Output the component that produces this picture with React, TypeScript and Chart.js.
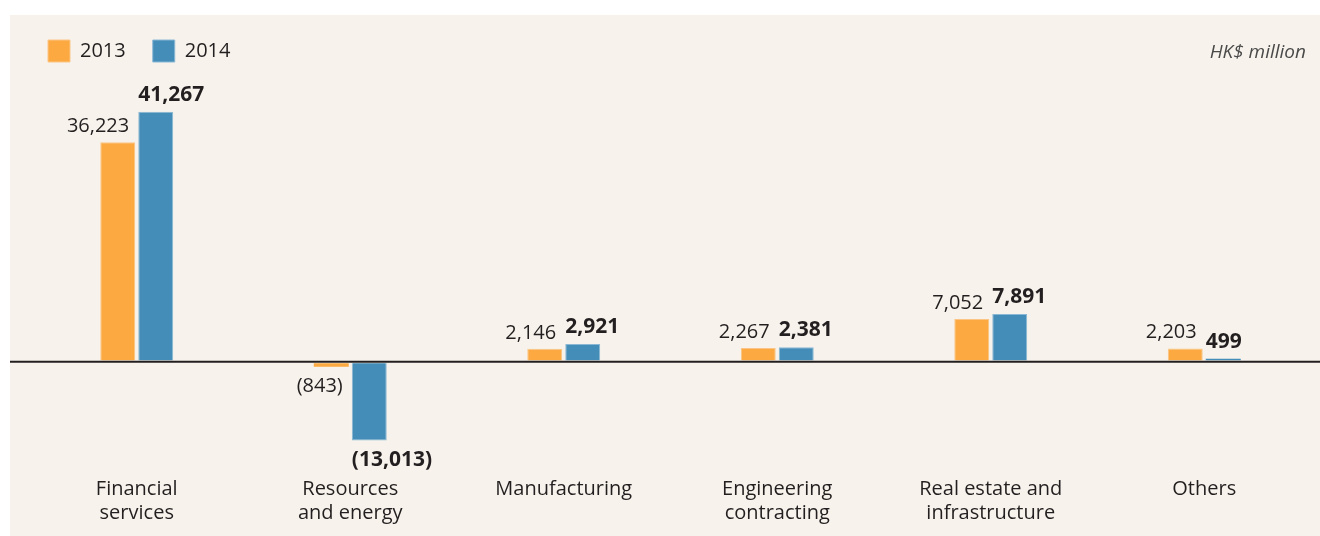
import React, { useEffect, useRef } from "react";
import { Chart, registerables } from "chart.js";

Chart.register(...registerables);

const categories: string[][] = [
  ["Financial", "services"],
  ["Resources", "and energy"],
  ["Manufacturing"],
  ["Engineering", "contracting"],
  ["Real estate and", "infrastructure"],
  ["Others"],
];
const seriesNames = ["2013", "2014"];
const values2013 = [36223, -843, 2146, 2267, 7052, 2203];
const values2014 = [41267, -13013, 2921, 2381, 7891, 499];
const unitLabel = "HK$ million";

const ORANGE = "#FBA940";
const BLUE = "#438DB8";
const BG = "#F7F3EC";
const TEXT = "#231F20";
const FONT = "'Open Sans', 'DejaVu Sans', sans-serif";

const fmt = (v: number) => {
  const s = Math.abs(v).toLocaleString("en-US");
  return v < 0 ? `(${s})` : s;
};

const edgeWidth = (c: any) => {
  const v = c.raw as number;
  return typeof v === "number" && Math.abs(v) < 1000 ? 0 : 1;
};

const decorPlugin = {
  id: "decor",
  beforeDraw(chart: any) {
    const { ctx, width, height } = chart;
    ctx.save();
    ctx.fillStyle = BG;
    ctx.fillRect(10, 15, width - 10, height - 15);
    ctx.restore();
  },
  afterDatasetsDraw(chart: any) {
    const { ctx, width } = chart;
    const y0 = chart.scales.y.getPixelForValue(0);
    ctx.save();
    ctx.fillStyle = BG;
    ctx.fillRect(10, y0 - 1.5, width - 10, 3);
    ctx.fillStyle = TEXT;
    ctx.fillRect(10, y0 - 1, width - 10, 2);

    chart.data.datasets.forEach((ds: any, di: number) => {
      const meta = chart.getDatasetMeta(di);
      meta.data.forEach((bar: any, i: number) => {
        const v = ds.data[i] as number;
        const half = bar.width / 2;
        const bold = di === 1;
        ctx.font = bold ? `bold 21px ${FONT}` : `20px ${FONT}`;
        ctx.fillStyle = TEXT;
        ctx.textBaseline = "alphabetic";
        let x: number;
        if (di === 0) {
          ctx.textAlign = "right";
          x = bar.x + half - 6;
        } else {
          ctx.textAlign = "left";
          x = bar.x - half;
        }
        let y: number;
        if (v >= 0) {
          y = bar.y - (bold ? 11 : 10);
        } else {
          y = bar.y + 25;
        }
        ctx.fillText(fmt(v), x, y);
      });
    });
    ctx.restore();
  },
  afterDraw(chart: any) {
    const { ctx } = chart;
    ctx.save();
    ctx.font = `italic 19px ${FONT}`;
    ctx.fillStyle = "#4A4A4A";
    ctx.textAlign = "right";
    ctx.textBaseline = "alphabetic";
    ctx.fillText(unitLabel, 1306, 58);
    ctx.restore();
  },
};

export default function App() {
  const ref = useRef<HTMLCanvasElement | null>(null);

  useEffect(() => {
    if (!ref.current) return;
    Chart.defaults.font.family = FONT;
    const chart = new Chart(ref.current, {
      type: "bar",
      data: {
        labels: categories,
        datasets: [
          {
            label: seriesNames[0],
            data: values2013,
            backgroundColor: ORANGE,
            borderColor: "#FCC585",
            borderWidth: edgeWidth,
            categoryPercentage: 0.356,
            barPercentage: 0.92,
          },
          {
            label: seriesNames[1],
            data: values2014,
            backgroundColor: BLUE,
            borderColor: "#8AB8D4",
            borderWidth: edgeWidth,
            categoryPercentage: 0.356,
            barPercentage: 0.92,
          },
        ],
      },
      options: {
        animation: false,
        responsive: false,
        devicePixelRatio: 1,
        layout: { padding: { left: 21, right: 9, top: 13, bottom: 5 } },
        plugins: {
          legend: {
            display: true,
            position: "top",
            align: "start",
            labels: {
              boxWidth: 22,
              boxHeight: 22,
              padding: 27,
              color: TEXT,
              font: { size: 20, family: FONT },
            },
          },
          tooltip: { enabled: false },
        },
        scales: {
          x: {
            grid: { display: false, drawTicks: false },
            border: { display: false },
            ticks: {
              color: TEXT,
              font: { size: 20, family: FONT, lineHeight: 1.2 },
              padding: 6,
              maxRotation: 0,
              autoSkip: false,
            },
          },
          y: {
            display: true,
            min: -18028,
            max: 47808,
            grid: { display: false, drawTicks: false },
            border: { display: false },
            ticks: { display: false },
            afterFit: (scale: any) => {
              scale.width = 9;
            },
          },
        },
      },
      plugins: [decorPlugin],
    });
    return () => chart.destroy();
  }, []);

  return (
    <div style={{ position: "absolute", left: 0, top: 0, width: 1320, height: 536 }}>
      <canvas ref={ref} width={1320} height={536} />
    </div>
  );
}
